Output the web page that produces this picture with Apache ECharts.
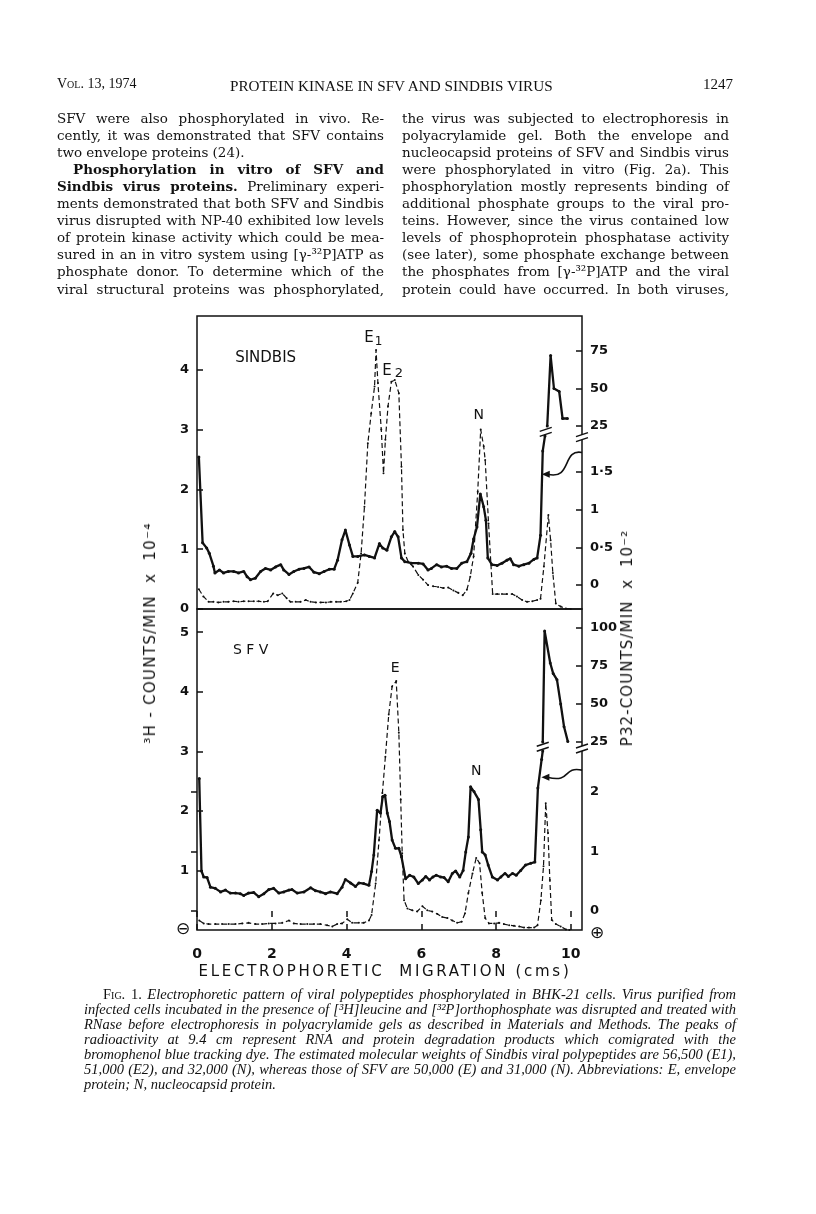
<!DOCTYPE html>
<html>
<head>
<meta charset="utf-8">
<script src="https://cdn.jsdelivr.net/npm/echarts@6.0.0/dist/echarts.min.js"></script>
<style>
  body { margin: 0; background: #fff; }
  #page { position: relative; width: 816px; height: 1214px; overflow: hidden; background: #fff; }
  #main { position: absolute; left: 0; top: 0; width: 816px; height: 1214px; }
  .ln { position: absolute; color: #111; white-space: nowrap; }
  .body { font-family: "DejaVu Serif", serif; font-size: 13px; }
  .jt { text-align: justify; text-align-last: justify; }
  .cap { font-family: "Liberation Serif", serif; font-style: italic; font-size: 14px; }
  .sc { font-variant: small-caps; font-style: normal; }
  .ax { position: absolute; font-family: "DejaVu Sans", sans-serif; color: #111; white-space: nowrap; }
</style>
</head>
<body>
<div id="page">
  <div id="main"></div>
</div>
<script>
// x positions (cm) and values
// Sindbis, 3H (left axis, x 10^-4), dashed
const sinX3H = [0.05,0.17,0.31,0.44,0.57,0.71,0.84,0.98,1.11,1.25,1.38,1.52,1.65,1.79,1.89,2.04,2.16,2.28,2.40,2.50,
  2.64,2.77,2.91,3.04,3.18,3.31,3.45,3.58,3.72,3.85,3.99,4.08,4.17,4.30,4.39,4.48,4.57,4.66,4.75,4.79,
  4.84,4.93,4.99,5.04,5.11,5.20,5.29,5.40,5.47,5.51,5.56,5.65,5.78,5.92,6.05,6.18,6.32,6.45,6.59,6.72,
  6.86,6.99,7.11,7.22,7.31,7.40,7.51,7.59,7.67,7.71,7.80,7.91,8.03,8.16,8.29,8.43,8.56,8.70,8.83,8.97,
  9.10,9.19,9.28,9.40,9.46,9.52,9.60,9.73,9.87,10.0];
const sin3H = [0.33,0.21,0.12,0.12,0.11,0.12,0.12,0.13,0.12,0.13,0.13,0.13,0.13,0.12,0.13,0.26,0.23,0.26,0.18,0.12,
  0.12,0.12,0.15,0.12,0.11,0.11,0.11,0.12,0.12,0.12,0.13,0.15,0.26,0.44,0.93,1.71,2.77,3.27,3.72,4.33,
  3.78,3.00,2.27,2.83,3.39,3.80,3.83,3.61,2.38,1.32,0.93,0.79,0.71,0.57,0.49,0.40,0.38,0.37,0.35,0.36,
  0.31,0.27,0.23,0.32,0.54,0.88,1.96,3.00,2.72,2.49,1.43,0.25,0.25,0.25,0.25,0.25,0.21,0.15,0.12,0.13,
  0.15,0.17,0.71,1.57,1.15,0.60,0.09,0.04,0.01,0.0];
// Sindbis, 32P (right axis, x 10^-2), solid, below the break
const sinX32P = [0.05,0.15,0.26,0.33,0.44,0.48,0.60,0.71,0.84,0.98,1.11,1.25,1.34,1.43,1.56,1.70,1.83,1.97,2.10,2.24,
  2.32,2.46,2.59,2.73,2.86,3.00,3.13,3.27,3.40,3.54,3.67,3.76,3.88,3.97,4.08,4.17,4.30,4.48,4.61,4.75,
  4.88,4.97,5.08,5.20,5.29,5.38,5.47,5.56,5.74,5.92,6.05,6.18,6.27,6.41,6.54,6.68,6.81,6.95,7.08,7.22,
  7.33,7.40,7.49,7.58,7.67,7.73,7.78,7.89,8.03,8.16,8.29,8.38,8.47,8.61,8.74,8.88,9.01,9.10,9.19,9.25,9.31];
const sin32P = [1.70,0.56,0.49,0.42,0.25,0.16,0.20,0.16,0.18,0.18,0.16,0.18,0.11,0.07,0.09,0.18,0.22,0.20,0.24,0.27,
  0.20,0.14,0.18,0.21,0.22,0.24,0.17,0.15,0.18,0.21,0.21,0.33,0.60,0.73,0.53,0.38,0.38,0.40,0.38,0.36,
  0.55,0.49,0.46,0.64,0.71,0.64,0.36,0.31,0.29,0.29,0.28,0.20,0.22,0.27,0.24,0.25,0.22,0.22,0.29,0.31,
  0.42,0.61,0.77,1.21,1.04,0.86,0.36,0.27,0.26,0.29,0.33,0.35,0.27,0.25,0.27,0.29,0.34,0.36,0.66,1.78,1.98];
// Sindbis, 32P above the axis break
const sinXHigh = [9.37,9.46,9.55,9.69,9.78,9.91];
const sinHigh = [25,72,50,48,30,30];

// SFV, 3H dashed
const sfvX3H = [0.06,0.18,0.31,0.49,0.67,0.85,1.03,1.21,1.38,1.56,1.74,1.92,2.10,2.28,2.46,2.59,2.77,2.95,3.13,3.30,
  3.48,3.62,3.75,3.88,4.02,4.15,4.33,4.46,4.60,4.67,4.78,4.87,4.96,5.04,5.13,5.22,5.33,5.40,5.45,5.49,
  5.54,5.63,5.76,5.89,6.03,6.16,6.29,6.43,6.56,6.70,6.83,6.96,7.08,7.17,7.26,7.37,7.47,7.56,7.63,7.71,
  7.81,7.95,8.08,8.21,8.35,8.48,8.62,8.75,8.88,9.02,9.11,9.20,9.27,9.33,9.39,9.44,9.49,9.60,9.73,9.87,9.96];
const sfv3H = [0.16,0.11,0.10,0.10,0.10,0.10,0.10,0.11,0.12,0.10,0.10,0.11,0.11,0.12,0.16,0.11,0.10,0.10,0.10,0.10,
  0.08,0.06,0.10,0.11,0.18,0.12,0.12,0.12,0.16,0.25,0.78,1.51,2.30,2.91,3.62,4.09,4.18,3.31,2.19,1.29,
  0.50,0.36,0.33,0.31,0.40,0.33,0.31,0.27,0.22,0.20,0.16,0.12,0.14,0.28,0.62,0.95,1.21,1.12,0.62,0.20,
  0.11,0.11,0.12,0.10,0.08,0.07,0.06,0.04,0.04,0.04,0.08,0.50,1.07,2.13,1.63,0.84,0.17,0.10,0.06,0.01,0.0];
// SFV, 32P solid, below the break
const sfvX32P = [0.06,0.12,0.18,0.27,0.36,0.49,0.63,0.76,0.89,1.03,1.16,1.25,1.38,1.52,1.65,1.79,1.92,2.05,2.19,2.32,
  2.46,2.54,2.68,2.86,3.04,3.17,3.30,3.44,3.57,3.75,3.88,3.97,4.11,4.24,4.33,4.46,4.60,4.67,4.73,4.82,
  4.91,4.97,5.03,5.09,5.15,5.22,5.31,5.40,5.47,5.58,5.69,5.80,5.92,6.03,6.12,6.22,6.31,6.40,6.52,6.61,
  6.72,6.83,6.92,7.03,7.12,7.19,7.26,7.32,7.41,7.53,7.59,7.63,7.71,7.79,7.90,8.04,8.13,8.24,8.33,8.44,
  8.54,8.66,8.79,8.93,9.04,9.12,9.22,9.25];
const sfv32P = [2.22,0.67,0.57,0.56,0.40,0.38,0.32,0.35,0.30,0.30,0.29,0.26,0.30,0.31,0.24,0.29,0.36,0.38,0.30,0.32,
  0.35,0.36,0.30,0.32,0.39,0.34,0.32,0.29,0.32,0.29,0.40,0.53,0.47,0.41,0.47,0.46,0.43,0.66,0.94,1.69,
  1.64,1.92,1.94,1.64,1.50,1.19,1.05,1.05,0.91,0.54,0.60,0.57,0.46,0.52,0.58,0.52,0.57,0.60,0.57,0.56,
  0.49,0.63,0.67,0.57,0.68,0.99,1.24,2.08,2.00,1.87,1.36,0.99,0.94,0.77,0.57,0.52,0.57,0.63,0.58,0.63,
  0.60,0.68,0.77,0.80,0.82,2.06,2.54,2.68];
// SFV, 32P above the axis break
const sfvXHigh = [9.25,9.30,9.45,9.53,9.63,9.73,9.82,9.92];
const sfvHigh = [25,98,77,70,66,50,35,25.4];

// tick labels
const xTicks = [0, 2, 4, 6, 8, 10];
const sinLeftTicks = [0, 1, 2, 3, 4];
const sinRightLow = [0, 0.5, 1, 1.5];
const sinRightHigh = [25, 50, 75];
const sfvLeftTicks = [1, 2, 3, 4, 5];
const sfvRightLow = [0, 1, 2];
const sfvRightHigh = [25, 50, 75, 100];

// page text
const headLeft = 'Vol. 13, 1974';
const headMid = 'PROTEIN KINASE IN SFV AND SINDBIS VIRUS';
const headRight = '1247';
const colLeft = [
  'SFV were also phosphorylated in vivo. Re-',
  'cently, it was demonstrated that SFV contains',
  'two envelope proteins (24).',
  '<b>Phosphorylation in vitro of SFV and</b>',
  '<b>Sindbis virus proteins.</b> Preliminary experi-',
  'ments demonstrated that both SFV and Sindbis',
  'virus disrupted with NP-40 exhibited low levels',
  'of protein kinase activity which could be mea-',
  'sured in an in vitro system using [γ-³²P]ATP as',
  'phosphate donor. To determine which of the',
  'viral structural proteins was phosphorylated,'
];
const colRight = [
  'the virus was subjected to electrophoresis in',
  'polyacrylamide gel. Both the envelope and',
  'nucleocapsid proteins of SFV and Sindbis virus',
  'were phosphorylated in vitro (Fig. 2a). This',
  'phosphorylation mostly represents binding of',
  'additional phosphate groups to the viral pro-',
  'teins. However, since the virus contained low',
  'levels of phosphoprotein phosphatase activity',
  '(see later), some phosphate exchange between',
  'the phosphates from [γ-³²P]ATP and the viral',
  'protein could have occurred. In both viruses,'
];
const caption = [
  '<span class="sc">Fig.</span> <span style="font-style:normal">1.</span> Electrophoretic pattern of viral polypeptides phosphorylated in BHK-21 cells. Virus purified from',
  'infected cells incubated in the presence of [³H]leucine and [³²P]orthophosphate was disrupted and treated with',
  'RNase before electrophoresis in polyacrylamide gels as described in Materials and Methods. The peaks of',
  'radioactivity at 9.4 cm represent RNA and protein degradation products which comigrated with the',
  'bromophenol blue tracking dye. The estimated molecular weights of Sindbis viral polypeptides are 56,500 (E1),',
  '51,000 (E2), and 32,000 (N), whereas those of SFV are 50,000 (E) and 31,000 (N). Abbreviations: E, envelope',
  'protein; N, nucleocapsid protein.'
];

const page = document.getElementById('page');
function addLine(html, left, top, cls, style) {
  let d = document.createElement('div');
  d.className = 'ln ' + (cls || '');
  d.style.left = left + 'px';
  d.style.top = top + 'px';
  if (style) d.style.cssText += style;
  d.innerHTML = html;
  page.appendChild(d);
  return d;
}

// set lines of a block like typeset text: one font size so the widest line fills its measure
function typeset(lines, baseSize, maxSize) {
  let ratio = Infinity;
  lines.forEach(function (l) {
    if (l.just) ratio = Math.min(ratio, l.width / l.el.offsetWidth);
  });
  let size = Math.min(maxSize, baseSize * ratio * 0.995);
  lines.forEach(function (l) {
    l.el.style.fontSize = size + 'px';
    l.el.style.width = l.width + 'px';
    if (l.just) l.el.classList.add('jt');
  });
}

// running head
addLine(headLeft, 57, 76, 'sc', 'font-family:"Liberation Serif",serif;font-size:14px;');
addLine(headMid, 230, 77, '', 'font-family:"Liberation Serif",serif;font-size:15.2px;');
addLine(headRight, 693, 76, '', 'font-family:"Liberation Serif",serif;font-size:15px;width:40px;text-align:right;');

// two text columns
let bodyLines = [];
colLeft.forEach(function (t, i) {
  let indent = (i === 3) ? 16 : 0;
  bodyLines.push({ el: addLine(t, 57 + indent, 110 + i * 17.05, 'body'), width: 327 - indent, just: i !== 2 });
});
colRight.forEach(function (t, i) {
  bodyLines.push({ el: addLine(t, 402, 110 + i * 17.05, 'body'), width: 327, just: true });
});
typeset(bodyLines, 13, 14);

// caption
let capLines = [];
caption.forEach(function (t, i) {
  let indent = (i === 0) ? 19 : 0;
  capLines.push({ el: addLine(t, 84 + indent, 986 + i * 15, 'cap'), width: 652 - indent, just: i !== caption.length - 1 });
});
typeset(capLines, 14, 14.5);

// axis titles outside the plot
let xt = addLine('ELECTROPHORETIC&nbsp; MIGRATION (cms)', 0, 962, '', '');
xt.className = 'ax';
xt.style.cssText += 'left:180px;width:410px;text-align:center;font-size:15px;letter-spacing:2.7px;';
let lt = addLine('³H - COUNTS/MIN&nbsp; x&nbsp; 10⁻⁴', 0, 0, '', '');
lt.className = 'ax';
lt.style.cssText += 'left:150px;top:633px;font-size:15px;letter-spacing:1.3px;transform:translate(-50%,-50%) rotate(-90deg);';
let rt = addLine('P32-COUNTS/MIN&nbsp; x&nbsp; 10⁻²', 0, 0, '', '');
rt.className = 'ax';
rt.style.cssText += 'left:627px;top:638px;font-size:15px;letter-spacing:1.1px;transform:translate(-50%,-50%) rotate(-90deg);';

// chart
let myChart = echarts.init(document.getElementById('main'));

function pairs(xs, ys) {
  return xs.map(function (x, i) { return [x, ys[i]]; });
}
let ink = '#111';
let labelFont = { color: ink, fontFamily: 'DejaVu Sans', fontWeight: 'bold', fontSize: 13 };

function yAxisOf(grid, pos, min, max, vals, fmt) {
  return {
    type: 'value', gridIndex: grid, position: pos, min: min, max: max,
    splitLine: { show: false },
    axisLine: { show: false },
    axisTick: { show: true, inside: true, length: 6, customValues: vals, lineStyle: { color: ink, width: 1.5 } },
    axisLabel: Object.assign({ customValues: vals, margin: 8, formatter: fmt }, labelFont)
  };
}
let dotFmt = function (v) { return String(v).replace('.', '\u00b7'); };

function solid(xi, yi, data) {
  return {
    type: 'line', xAxisIndex: xi, yAxisIndex: yi, data: data,
    symbol: 'circle', symbolSize: 3, showSymbol: true, silent: true,
    lineStyle: { color: ink, width: 2.3 }, itemStyle: { color: ink }
  };
}
function dashed(xi, yi, data) {
  return {
    type: 'line', xAxisIndex: xi, yAxisIndex: yi, data: data,
    symbol: 'circle', symbolSize: 2, showSymbol: true, silent: true,
    lineStyle: { color: ink, width: 1.2, type: [5, 3] }, itemStyle: { color: ink }
  };
}

let option = {
  animation: false,
  backgroundColor: 'transparent',
  grid: [
    { left: 197, top: 316, width: 385, height: 293, show: true, borderColor: ink, borderWidth: 1.5 },
    { left: 197, top: 609, width: 385, height: 321, show: true, borderColor: ink, borderWidth: 1.5 }
  ],
  xAxis: [
    { type: 'value', gridIndex: 0, min: 0, max: 10.3, splitLine: { show: false }, axisLine: { show: false },
      axisTick: { show: false }, axisLabel: { show: false } },
    { type: 'value', gridIndex: 1, min: 0, max: 10.3, splitLine: { show: false }, axisLine: { show: false },
      axisTick: { show: true, inside: true, length: 6, customValues: xTicks, lineStyle: { color: ink, width: 1.5 } },
      axisLabel: { customValues: xTicks, margin: 17, fontSize: 14, color: ink, fontFamily: 'DejaVu Sans', fontWeight: 'bold' } },
    { type: 'value', gridIndex: 1, position: 'top', min: 0, max: 10.3, splitLine: { show: false }, axisLine: { show: false },
      axisTick: { show: true, inside: true, length: 6, customValues: xTicks, lineStyle: { color: ink, width: 1.5 } },
      axisLabel: { show: false } }
  ],
  yAxis: [
    yAxisOf(0, 'left', 0, 4.9, sinLeftTicks),
    yAxisOf(0, 'right', -0.3187, 3.572, sinRightLow, dotFmt),
    yAxisOf(0, 'right', -97, 98.33, sinRightHigh),
    yAxisOf(1, 'left', 0, 5.39, sfvLeftTicks),
    yAxisOf(1, 'right', -0.318, 5.059, sfvRightLow, dotFmt),
    yAxisOf(1, 'right', -98.7, 112.5, sfvRightHigh)
  ],
  series: [
    dashed(0, 0, pairs(sinX3H, sin3H)),
    solid(0, 1, pairs(sinX32P, sin32P)),
    solid(0, 2, pairs(sinXHigh, sinHigh)),
    dashed(1, 3, pairs(sfvX3H, sfv3H)),
    solid(1, 4, pairs(sfvX32P, sfv32P)),
    solid(1, 5, pairs(sfvXHigh, sfvHigh))
  ]
};
myChart.setOption(option);

// annotations placed through the axes
function px(xi, yi, p) { return myChart.convertToPixel({ xAxisIndex: xi, yAxisIndex: yi }, p); }
function label(xi, yi, p, text, size, align) {
  let q = px(xi, yi, p);
  return { type: 'text', x: q[0], y: q[1], z: 10, silent: true,
    style: { text: text, fill: ink, font: (size || 14) + 'px "DejaVu Sans"', align: align || 'center', verticalAlign: 'middle' } };
}
function breakMark(xi, yi, p) {
  let q = px(xi, yi, p);
  return { type: 'group', x: q[0], y: q[1], z: 20, silent: true, children: [
    { type: 'polygon', shape: { points: [[-6, 0], [6, -4], [6, 1], [-6, 5]] }, style: { fill: '#fff' } },
    { type: 'line', shape: { x1: -6, y1: 0, x2: 6, y2: -4 }, style: { stroke: ink, lineWidth: 1.4 } },
    { type: 'line', shape: { x1: -6, y1: 5, x2: 6, y2: 1 }, style: { stroke: ink, lineWidth: 1.4 } }
  ] };
}
function arrow(s, e) {
  return { type: 'group', z: 15, silent: true, children: [
    { type: 'bezierCurve', shape: { x1: s[0], y1: s[1], cpx1: s[0] - 20, cpy1: s[1] - 4, cpx2: s[0] - 10, cpy2: e[1] + 6, x2: e[0] + 2, y2: e[1] },
      style: { stroke: ink, lineWidth: 1.6, fill: null } },
    { type: 'polygon', shape: { points: [[e[0] - 4, e[1]], [e[0] + 4, e[1] - 3.5], [e[0] + 4, e[1] + 3.5]] }, style: { fill: ink } }
  ] };
}

let zero = px(1, 3, [0, 0]);
let graphics = [
  label(0, 0, [1.02, 4.2], 'SINDBIS', 15, 'left'),
  label(0, 0, [4.60, 4.53], 'E', 15),
  label(0, 0, [4.86, 4.46], '1', 12),
  label(0, 0, [5.08, 3.98], 'E', 15),
  label(0, 0, [5.40, 3.93], '2', 13),
  label(0, 0, [7.54, 3.24], 'N', 14),
  label(1, 3, [0.96, 4.70], 'S F V', 14, 'left'),
  label(1, 3, [5.30, 4.40], 'E', 14),
  label(1, 3, [7.47, 2.66], 'N', 14),
  { type: 'text', x: zero[0] - 14, y: zero[1], z: 10, silent: true,
    style: { text: '\u2296', fill: ink, font: '17px "DejaVu Sans"', align: 'center', verticalAlign: 'middle' } },
  { type: 'text', x: px(1, 3, [10.3, 0])[0] + 15, y: zero[1] + 4, z: 10, silent: true,
    style: { text: '\u2295', fill: ink, font: '17px "DejaVu Sans"', align: 'center', verticalAlign: 'middle' } },
  breakMark(0, 1, [10.3, 1.97]),
  breakMark(0, 1, [9.33, 2.04]),
  breakMark(1, 4, [10.3, 2.73]),
  breakMark(1, 4, [9.25, 2.76]),
  arrow(px(0, 1, [10.3, 1.76]), px(0, 1, [9.33, 1.47])),
  arrow(px(1, 4, [10.3, 2.36]), px(1, 4, [9.32, 2.24]))
];
myChart.setOption({ graphic: graphics });
</script>
</body>
</html>
